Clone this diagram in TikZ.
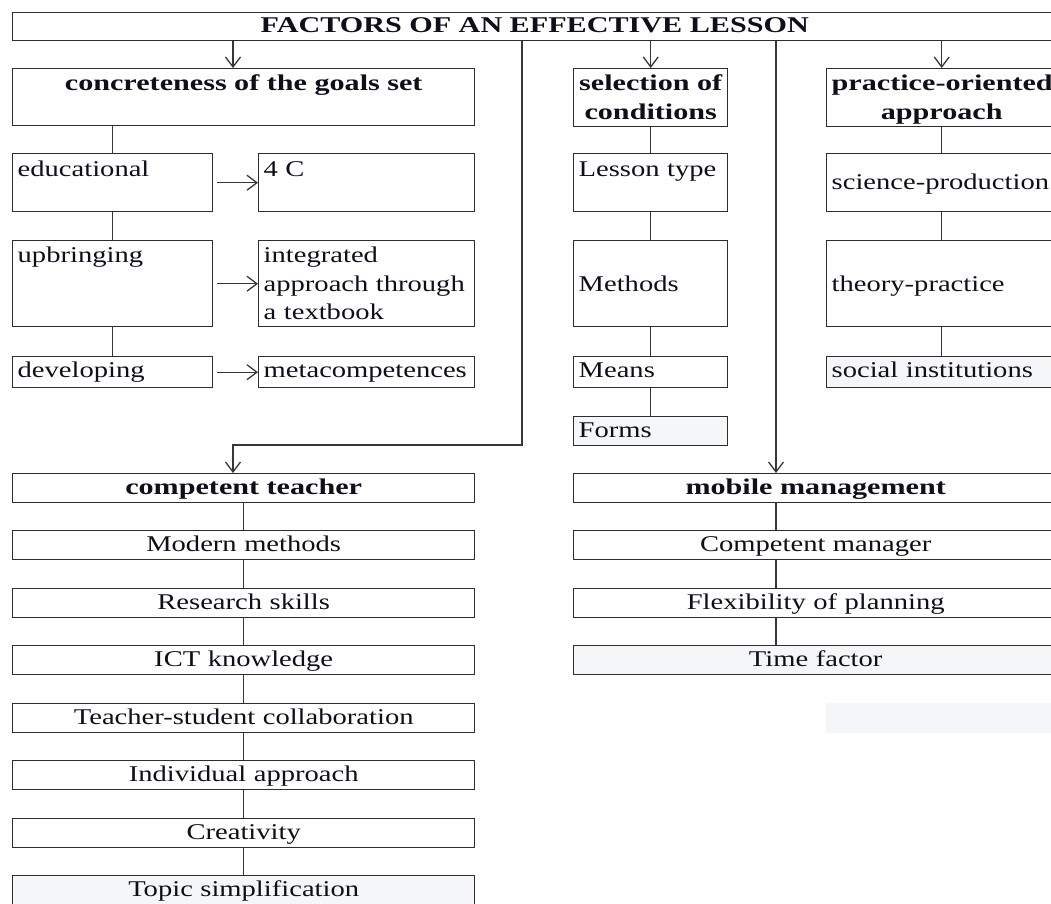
\documentclass[tikz,border=0pt]{standalone}
\usepackage{fontspec}
\setmainfont{Liberation Serif}[UprightFeatures={FakeStretch=1.27}, BoldFeatures={FakeStretch=1.34}]
\usepackage{xcolor}
\usetikzlibrary{positioning,arrows.meta}

\definecolor{boxline}{RGB}{45,45,45}
\definecolor{linkgray}{RGB}{55,55,55}
\definecolor{boxfill}{RGB}{245,246,248}
\definecolor{ink}{RGB}{15,15,25}

\tikzset{
  box/.style={draw=boxline, line width=1.4pt, fill=white, inner xsep=5pt, inner ysep=0pt,
    anchor=north west, text=ink, font=\fontsize{22.5}{28.5}\selectfont},
  head/.style={box, font=\fontsize{22.5}{28.5}\selectfont\bfseries, align=center},
  lh/.style 2 args={text height=#1pt, text depth=#2pt},
  conn/.style={draw=linkgray, line width=1.3pt},
  arr/.style={conn, -{Straight Barb[length=10pt,width=15pt]}},
}

\begin{document}
\begin{tikzpicture}[x=1pt, y=-1pt]
\useasboundingbox (0,0) rectangle (1051,903);
\clip (0,0) rectangle (1051,903);

% column guides for the connectors
\coordinate (lcol) at (233,0);
\coordinate (bend) at (522,445);
\coordinate (mcol) at (776,0);

% title
\node[head, text width=1034pt, lh={20}{8}] (title) at (12,12) {FACTORS OF AN EFFECTIVE LESSON};

% top row of factors
\node[head, text width=452pt, lh={22}{35}] (conc) at (12,68) {concreteness of the goals set};
\node[head, text width=144pt, lh={22}{35.5}] (sel) at (573,68) {selection of\\conditions};
\node[head, text width=220pt, lh={22}{35.5}] (prac) at (826,68) {\mbox{practice-oriented}\\approach};

% goals
\node[box, text width=190pt, align=left, lh={23}{35}] (edu) at (12,153) {educational};
\node[box, text width=206pt, align=left, lh={23}{35}] (c4) at (258,153) {4 C};
\node[box, text width=190pt, align=left, lh={22}{64}] (upb) at (12,240) {upbringing};
\node[box, text width=206pt, align=left, lh={22}{64}] (integ) at (258,240) {integrated\\\mbox{approach through}\\a textbook};
\node[box, text width=190pt, align=left, lh={21}{10}] (dev) at (12,356) {developing};
\node[box, text width=206pt, align=left, lh={21}{10}] (meta) at (258,356) {metacompetences};

% conditions
\node[box, text width=144pt, align=left, lh={23}{35}] (ltype) at (573,153) {Lesson type};
\node[box, text width=144pt, align=left, lh={51}{35}] (meth) at (573,240) {Methods};
\node[box, text width=144pt, align=left, lh={21}{10}] (means) at (573,356) {Means};
\node[box, fill=boxfill, text width=144pt, align=left, lh={21}{8}] (forms) at (573,416) {Forms};

% practice
\node[box, text width=220pt, align=left, lh={36}{22}] (sci) at (826,153) {\mbox{science-production}};
\node[box, text width=220pt, align=left, lh={51}{35}] (theo) at (826,240) {theory-practice};
\node[box, fill=boxfill, text width=220pt, align=left, lh={21}{10}] (soc) at (826,356) {social institutions};

% teacher
\node[head, text width=452pt, lh={21}{8}] (teach) at (12,473) {competent teacher};
\foreach \i/\y/\f/\txt in {1/530/white/Modern methods, 2/588/white/Research skills,
    3/645/white/ICT knowledge, 4/703/white/Teacher-student collaboration,
    5/760/white/Individual approach, 6/818/white/Creativity, 7/875/boxfill/Topic simplification}
  \node[box, fill=\f, text width=452pt, align=center, lh={21}{8}] (t\i) at (12,\y) {\txt};

% management
\node[head, text width=474pt, lh={21}{8}] (mob) at (573,473) {mobile management};
\node[box, text width=474pt, align=center, lh={21}{8}] (m1) at (573,530) {Competent manager};
\node[box, text width=474pt, align=center, lh={21}{8}] (m2) at (573,588) {Flexibility of planning};
\node[box, fill=boxfill, text width=474pt, align=center, lh={21}{8}] (m3) at (573,645) {Time factor};
\fill[boxfill] (826,703) rectangle (1056,733);

% arrows from the title
\draw[arr] (title.south -| lcol) -- (conc.north -| lcol);
\draw[arr] (title.south -| sel.north) -- (sel.north);
\draw[arr] (title.south -| prac.north) -- (prac.north);
\draw[arr] (title.south -| bend) -- (bend) -| (teach.north -| lcol);
\draw[arr] (title.south -| mcol) -- (mob.north -| mcol);

% goal links
\draw[conn] (conc.south -| edu.north) -- (edu.north);
\draw[conn] (edu) -- (upb);
\draw[conn] (upb) -- (dev);
\draw[arr, shorten <=4pt] (edu) -- (c4);
\draw[arr, shorten <=4pt] (upb) -- (integ);
\draw[arr, shorten <=4pt] (dev) -- (meta);

% column links
\foreach \a/\b in {sel/ltype, ltype/meth, meth/means, means/forms,
    prac/sci, sci/theo, theo/soc,
    teach/t1, t1/t2, t2/t3, t3/t4, t4/t5, t5/t6, t6/t7}
  \draw[conn] (\a) -- (\b);
\foreach \a/\b in {mob/m1, m1/m2, m2/m3}
  \draw[conn] (\a.south -| mcol) -- (\b.north -| mcol);
\end{tikzpicture}
\end{document}
